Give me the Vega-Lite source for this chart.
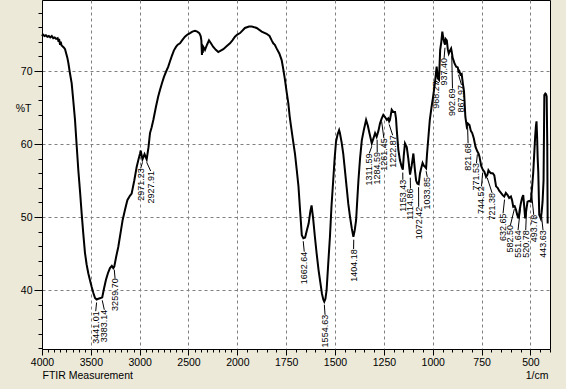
{
  "$schema": "https://vega.github.io/schema/vega-lite/v6.json",
  "width": 508,
  "height": 349,
  "autosize": {"type": "none"},
  "padding": {"left": 42, "top": 0, "right": 16, "bottom": 40},
  "background": "#ECE9D8",
  "config": {
    "view": {"fill": "white", "stroke": "#000", "strokeWidth": 1},
    "font": "Liberation Sans",
    "axis": {"labelColor": "#000", "tickColor": "#000", "domainColor": "#000", "titleColor": "#000", "labelFontSize": 10.5, "titleFontSize": 10.5, "titleFontWeight": "normal", "labelFont": "Liberation Sans", "titleFont": "Liberation Sans"}
  },
  "datasets": {
    "spectrum": [
      {"wn":4000,"t":74.8},{"wn":3990,"t":75.0},{"wn":3975,"t":74.8},{"wn":3960,"t":74.9},{"wn":3945,"t":74.7},{"wn":3930,"t":74.8},{"wn":3915,"t":74.6},{"wn":3900,"t":74.8},{"wn":3885,"t":74.5},{"wn":3870,"t":74.6},{"wn":3855,"t":74.4},{"wn":3840,"t":74.5},{"wn":3830,"t":74.0},{"wn":3825,"t":74.4},{"wn":3815,"t":73.6},{"wn":3808,"t":74.0},{"wn":3800,"t":73.5},{"wn":3790,"t":73.4},{"wn":3775,"t":73.2},{"wn":3764,"t":73.0},{"wn":3750,"t":72.3},{"wn":3740,"t":71.8},{"wn":3730,"t":71.1},{"wn":3715,"t":69.8},{"wn":3696,"t":68.3},{"wn":3680,"t":66.0},{"wn":3662,"t":63.3},{"wn":3645,"t":59.8},{"wn":3628,"t":56.4},{"wn":3610,"t":53.4},{"wn":3594,"t":50.5},{"wn":3577,"t":47.7},{"wn":3560,"t":45.1},{"wn":3543,"t":43.5},{"wn":3526,"t":42.3},{"wn":3508,"t":41.3},{"wn":3491,"t":40.4},{"wn":3474,"t":39.6},{"wn":3457,"t":38.9},{"wn":3441,"t":38.7},{"wn":3423,"t":38.8},{"wn":3400,"t":38.9},{"wn":3383,"t":39.0},{"wn":3365,"t":40.2},{"wn":3345,"t":41.4},{"wn":3325,"t":42.3},{"wn":3304,"t":43.0},{"wn":3285,"t":43.3},{"wn":3270,"t":43.0},{"wn":3260,"t":43.2},{"wn":3240,"t":44.6},{"wn":3219,"t":45.9},{"wn":3196,"t":47.8},{"wn":3174,"t":49.6},{"wn":3150,"t":51.0},{"wn":3126,"t":52.3},{"wn":3100,"t":52.9},{"wn":3082,"t":53.2},{"wn":3055,"t":55.0},{"wn":3030,"t":56.9},{"wn":3010,"t":58.0},{"wn":2996,"t":58.7},{"wn":2989,"t":59.1},{"wn":2971,"t":57.9},{"wn":2950,"t":58.6},{"wn":2928,"t":57.9},{"wn":2910,"t":59.5},{"wn":2894,"t":61.5},{"wn":2877,"t":62.3},{"wn":2860,"t":63.3},{"wn":2833,"t":65.1},{"wn":2810,"t":66.5},{"wn":2792,"t":67.4},{"wn":2770,"t":68.4},{"wn":2751,"t":69.2},{"wn":2730,"t":69.9},{"wn":2707,"t":70.6},{"wn":2690,"t":71.3},{"wn":2672,"t":72.0},{"wn":2650,"t":72.8},{"wn":2628,"t":73.3},{"wn":2610,"t":73.6},{"wn":2587,"t":73.8},{"wn":2560,"t":74.3},{"wn":2536,"t":74.7},{"wn":2510,"t":75.0},{"wn":2484,"t":75.2},{"wn":2460,"t":75.4},{"wn":2433,"t":75.5},{"wn":2410,"t":75.4},{"wn":2389,"t":75.2},{"wn":2375,"t":74.8},{"wn":2368,"t":74.2},{"wn":2362,"t":72.2},{"wn":2358,"t":73.5},{"wn":2354,"t":72.5},{"wn":2348,"t":73.3},{"wn":2331,"t":72.9},{"wn":2310,"t":73.6},{"wn":2290,"t":74.2},{"wn":2270,"t":73.8},{"wn":2246,"t":73.3},{"wn":2220,"t":72.9},{"wn":2195,"t":72.6},{"wn":2170,"t":72.8},{"wn":2143,"t":73.0},{"wn":2110,"t":73.4},{"wn":2075,"t":73.8},{"wn":2050,"t":74.2},{"wn":2024,"t":74.7},{"wn":2000,"t":75.0},{"wn":1986,"t":75.2},{"wn":1961,"t":75.9},{"wn":1940,"t":76.1},{"wn":1926,"t":76.1},{"wn":1901,"t":75.9},{"wn":1875,"t":75.4},{"wn":1850,"t":75.1},{"wn":1835,"t":74.8},{"wn":1824,"t":74.2},{"wn":1816,"t":73.8},{"wn":1808,"t":73.6},{"wn":1799,"t":73.1},{"wn":1785,"t":72.4},{"wn":1773,"t":71.5},{"wn":1765,"t":70.3},{"wn":1756,"t":68.8},{"wn":1748,"t":67.2},{"wn":1739,"t":65.6},{"wn":1732,"t":63.8},{"wn":1727,"t":62.8},{"wn":1716,"t":60.7},{"wn":1705,"t":58.7},{"wn":1696,"t":56.5},{"wn":1687,"t":54.2},{"wn":1678,"t":50.6},{"wn":1670,"t":47.5},{"wn":1662,"t":47.1},{"wn":1653,"t":47.2},{"wn":1644,"t":48.2},{"wn":1635,"t":49.1},{"wn":1626,"t":50.8},{"wn":1620,"t":51.6},{"wn":1612,"t":49.8},{"wn":1603,"t":47.3},{"wn":1594,"t":45.0},{"wn":1584,"t":42.7},{"wn":1575,"t":41.0},{"wn":1567,"t":39.5},{"wn":1560,"t":38.7},{"wn":1555,"t":38.4},{"wn":1549,"t":38.8},{"wn":1543,"t":40.0},{"wn":1535,"t":43.5},{"wn":1526,"t":47.3},{"wn":1518,"t":51.5},{"wn":1509,"t":55.1},{"wn":1502,"t":58.0},{"wn":1495,"t":60.3},{"wn":1487,"t":61.3},{"wn":1479,"t":61.9},{"wn":1475,"t":61.5},{"wn":1466,"t":60.2},{"wn":1458,"t":58.7},{"wn":1450,"t":56.6},{"wn":1441,"t":54.2},{"wn":1432,"t":51.8},{"wn":1423,"t":50.0},{"wn":1414,"t":48.4},{"wn":1406,"t":47.3},{"wn":1399,"t":48.2},{"wn":1392,"t":49.6},{"wn":1386,"t":52.4},{"wn":1380,"t":55.1},{"wn":1372,"t":58.0},{"wn":1363,"t":60.5},{"wn":1352,"t":62.0},{"wn":1341,"t":63.3},{"wn":1332,"t":62.5},{"wn":1324,"t":61.5},{"wn":1312,"t":60.1},{"wn":1303,"t":60.8},{"wn":1295,"t":61.5},{"wn":1287,"t":61.0},{"wn":1278,"t":61.8},{"wn":1270,"t":62.8},{"wn":1261,"t":63.5},{"wn":1253,"t":64.0},{"wn":1244,"t":63.7},{"wn":1235,"t":63.3},{"wn":1228,"t":63.5},{"wn":1223,"t":63.1},{"wn":1219,"t":63.3},{"wn":1210,"t":64.7},{"wn":1202,"t":64.4},{"wn":1193,"t":64.4},{"wn":1188,"t":63.5},{"wn":1184,"t":61.9},{"wn":1176,"t":59.2},{"wn":1168,"t":57.8},{"wn":1159,"t":56.9},{"wn":1153,"t":56.5},{"wn":1148,"t":58.5},{"wn":1142,"t":60.1},{"wn":1133,"t":59.6},{"wn":1125,"t":58.0},{"wn":1116,"t":55.8},{"wn":1108,"t":57.0},{"wn":1099,"t":58.7},{"wn":1091,"t":56.4},{"wn":1085,"t":55.0},{"wn":1079,"t":54.6},{"wn":1072,"t":54.5},{"wn":1065,"t":56.0},{"wn":1058,"t":56.8},{"wn":1052,"t":57.4},{"wn":1045,"t":57.0},{"wn":1040,"t":56.9},{"wn":1034,"t":56.7},{"wn":1029,"t":58.7},{"wn":1022,"t":61.0},{"wn":1015,"t":63.3},{"wn":1006,"t":65.1},{"wn":998,"t":66.5},{"wn":989,"t":68.3},{"wn":980,"t":70.6},{"wn":974,"t":69.0},{"wn":968,"t":68.8},{"wn":962,"t":72.9},{"wn":956,"t":74.0},{"wn":951,"t":75.4},{"wn":946,"t":74.5},{"wn":940,"t":73.8},{"wn":937,"t":73.6},{"wn":934,"t":74.4},{"wn":928,"t":74.2},{"wn":923,"t":73.0},{"wn":918,"t":72.4},{"wn":912,"t":72.8},{"wn":906,"t":73.1},{"wn":902,"t":72.5},{"wn":898,"t":71.8},{"wn":894,"t":71.5},{"wn":888,"t":71.0},{"wn":880,"t":70.6},{"wn":872,"t":70.5},{"wn":868,"t":69.9},{"wn":864,"t":70.0},{"wn":858,"t":69.5},{"wn":852,"t":69.6},{"wn":846,"t":68.3},{"wn":840,"t":67.2},{"wn":833,"t":63.7},{"wn":826,"t":62.4},{"wn":820,"t":62.8},{"wn":812,"t":62.6},{"wn":805,"t":61.8},{"wn":798,"t":61.5},{"wn":790,"t":60.8},{"wn":781,"t":59.6},{"wn":772,"t":59.0},{"wn":766,"t":58.7},{"wn":761,"t":58.3},{"wn":752,"t":57.0},{"wn":744,"t":56.5},{"wn":736,"t":56.2},{"wn":727,"t":55.5},{"wn":720,"t":55.8},{"wn":715,"t":56.4},{"wn":710,"t":56.2},{"wn":702,"t":56.0},{"wn":693,"t":56.0},{"wn":685,"t":55.7},{"wn":676,"t":54.2},{"wn":668,"t":54.0},{"wn":660,"t":53.6},{"wn":651,"t":53.3},{"wn":642,"t":53.0},{"wn":634,"t":52.8},{"wn":626,"t":53.3},{"wn":617,"t":53.0},{"wn":609,"t":52.6},{"wn":600,"t":52.8},{"wn":594,"t":52.3},{"wn":588,"t":51.4},{"wn":581,"t":51.5},{"wn":574,"t":51.0},{"wn":568,"t":50.3},{"wn":561,"t":49.8},{"wn":555,"t":51.0},{"wn":549,"t":51.9},{"wn":543,"t":52.6},{"wn":537,"t":53.0},{"wn":532,"t":51.5},{"wn":527,"t":49.8},{"wn":521,"t":51.0},{"wn":515,"t":52.1},{"wn":506,"t":52.2},{"wn":498,"t":52.1},{"wn":492,"t":54.0},{"wn":486,"t":56.0},{"wn":481,"t":58.5},{"wn":476,"t":61.0},{"wn":472,"t":62.5},{"wn":469,"t":63.1},{"wn":466,"t":61.0},{"wn":463,"t":58.0},{"wn":460,"t":56.2},{"wn":455,"t":50.3},{"wn":450,"t":50.0},{"wn":447,"t":49.8},{"wn":443,"t":50.6},{"wn":438,"t":52.1},{"wn":433,"t":55.0},{"wn":429,"t":66.7},{"wn":424,"t":66.9},{"wn":420,"t":66.8},{"wn":417,"t":66.5},{"wn":414,"t":60.0},{"wn":412,"t":49.1}
    ],
    "peaks": [
      {"label":"3441.01","wn":3441.01,"t":38.7,"lx":3450,"ly":37.1},
      {"label":"3383.14","wn":3383.14,"t":39.0,"lx":3362,"ly":37.3},
      {"label":"3259.70","wn":3259.70,"t":43.2,"lx":3252,"ly":41.6},
      {"label":"2971.23","wn":2971.23,"t":57.9,"lx":2989,"ly":56.7},
      {"label":"2927.91","wn":2927.91,"t":57.9,"lx":2887,"ly":56.3},
      {"label":"1662.64","wn":1662.64,"t":47.1,"lx":1657.5,"ly":45.25},
      {"label":"1554.63","wn":1554.63,"t":38.4,"lx":1551,"ly":36.6},
      {"label":"1404.18","wn":1404.18,"t":47.3,"lx":1405,"ly":45.6},
      {"label":"1311.59","wn":1311.59,"t":60.1,"lx":1325,"ly":58.7},
      {"label":"1284.59","wn":1284.59,"t":61.0,"lx":1284,"ly":58.9},
      {"label":"1261.45","wn":1261.45,"t":63.5,"lx":1250,"ly":60.8},
      {"label":"1222.87","wn":1222.87,"t":63.1,"lx":1205,"ly":61.2},
      {"label":"1153.43","wn":1153.43,"t":56.5,"lx":1153,"ly":55.1},
      {"label":"1114.86","wn":1114.86,"t":55.8,"lx":1114,"ly":53.9},
      {"label":"1072.42","wn":1072.42,"t":54.5,"lx":1072,"ly":51.4},
      {"label":"1033.85","wn":1033.85,"t":56.7,"lx":1028,"ly":55.5},
      {"label":"968.27","wn":968.27,"t":68.8,"lx":984,"ly":68.6},
      {"label":"937.40","wn":937.40,"t":73.6,"lx":941.8,"ly":71.8},
      {"label":"902.69","wn":902.69,"t":72.5,"lx":898.9,"ly":67.6},
      {"label":"867.97","wn":867.97,"t":69.9,"lx":852.9,"ly":68.1},
      {"label":"821.68","wn":821.68,"t":62.8,"lx":819.1,"ly":60.1},
      {"label":"771.53","wn":771.53,"t":59.0,"lx":776.2,"ly":57.4},
      {"label":"744.52","wn":744.52,"t":56.5,"lx":750.6,"ly":54.2},
      {"label":"721.38","wn":721.38,"t":55.8,"lx":696.4,"ly":53.3},
      {"label":"632.65","wn":632.65,"t":52.8,"lx":640.2,"ly":50.5},
      {"label":"582.50","wn":582.50,"t":51.5,"lx":602.4,"ly":48.9},
      {"label":"551.64","wn":551.64,"t":51.5,"lx":563.5,"ly":48.2},
      {"label":"520.78","wn":520.78,"t":51.0,"lx":524.2,"ly":48.2},
      {"label":"493.78","wn":493.78,"t":53.5,"lx":483.3,"ly":50.3},
      {"label":"443.63","wn":443.63,"t":50.6,"lx":435.7,"ly":48.2}
    ]
  },
  "resolve": {"axis": {"x": "independent", "y": "independent"}},
  "layer": [
    {
      "data": {"name": "spectrum"},
      "mark": {"type": "line", "color": "#000", "strokeWidth": 2},
      "encoding": {
        "x": {"field": "wn", "type": "quantitative",
          "scale": {"domain": [4000, 2000, 400], "range": [0, 195.3, 508], "nice": false, "zero": false},
          "axis": {"orient": "bottom",
            "values": [4000,3937.5,3875,3812.5,3750,3687.5,3625,3562.5,3500,3437.5,3375,3312.5,3250,3187.5,3125,3062.5,3000,2937.5,2875,2812.5,2750,2687.5,2625,2562.5,2500,2437.5,2375,2312.5,2250,2187.5,2125,2062.5,2000,1950,1900,1850,1800,1750,1700,1650,1600,1550,1500,1450,1400,1350,1300,1250,1200,1150,1100,1050,1000,950,900,850,800,750,700,650,600,550,500,450,400],
            "format": "d",
            "labelExpr": "indexof([4000,3500,3000,2500,2000,1750,1500,1250,1000,750,500], datum.value) >= 0 ? datum.label : ''",
            "grid": true, "gridDash": [3,3], "gridColor": "#808080",
            "gridOpacity": {"condition": {"test": "indexof([4000,3500,3000,2500,2000,1750,1500,1250,1000,750,500], datum.value) >= 0", "value": 1}, "value": 0},
            "tickSize": {"condition": {"test": "indexof([4000,3500,3000,2500,2000,1750,1500,1250,1000,750,500], datum.value) >= 0", "value": 6}, "value": 3},
            "domain": false, "labelPadding": 2, "labelFlush": false, "labelOverlap": false,
            "title": "FTIR Measurement", "titleX": 0, "titleY": 26, "titleAlign": "left", "titleBaseline": "middle", "titleAnchor": null}},
        "y": {"field": "t", "type": "quantitative",
          "scale": {"domain": [31.92, 79.73], "nice": false, "zero": false},
          "axis": {"orient": "left",
            "values": [32,34,36,38,40,42,44,46,48,50,52,54,56,58,60,62,64,66,68,70,72,74,76,78],
            "labelExpr": "indexof([40,50,60,70], datum.value) >= 0 ? datum.label : ''",
            "grid": true, "gridDash": [3,3], "gridColor": "#808080",
            "gridOpacity": {"condition": {"test": "indexof([40,50,60,70], datum.value) >= 0", "value": 1}, "value": 0},
            "tickSize": {"condition": {"test": "indexof([40,50,60,70], datum.value) >= 0", "value": 8}, "value": 4},
            "domain": true, "labelPadding": 2, "labelOverlap": false,
            "title": "%T", "titleAngle": 0, "titleX": -19, "titleY": 108, "titleAlign": "center", "titleBaseline": "middle"}}
      }
    },
    {
      "data": {"name": "peaks"},
      "mark": {"type": "rule", "color": "#000", "strokeWidth": 1, "yOffset": 3},
      "encoding": {
        "x": {"field": "wn", "type": "quantitative",
          "axis": {"orient": "bottom", "values": [], "labels": false, "domain": false, "grid": false, "ticks": false,
            "title": "1/cm", "titleX": 506, "titleY": 26, "titleAlign": "right", "titleBaseline": "middle", "titleAnchor": null}},
        "x2": {"field": "lx"},
        "y": {"field": "t", "type": "quantitative", "axis": null},
        "y2": {"field": "ly"}
      }
    },
    {
      "data": {"name": "peaks"},
      "mark": {"type": "text", "angle": 270, "align": "right", "baseline": "middle", "fontSize": 9, "font": "Liberation Sans", "color": "#000"},
      "encoding": {
        "x": {"field": "lx", "type": "quantitative", "axis": null},
        "y": {"field": "ly", "type": "quantitative", "axis": null},
        "text": {"field": "label"}
      }
    }
  ]
}
